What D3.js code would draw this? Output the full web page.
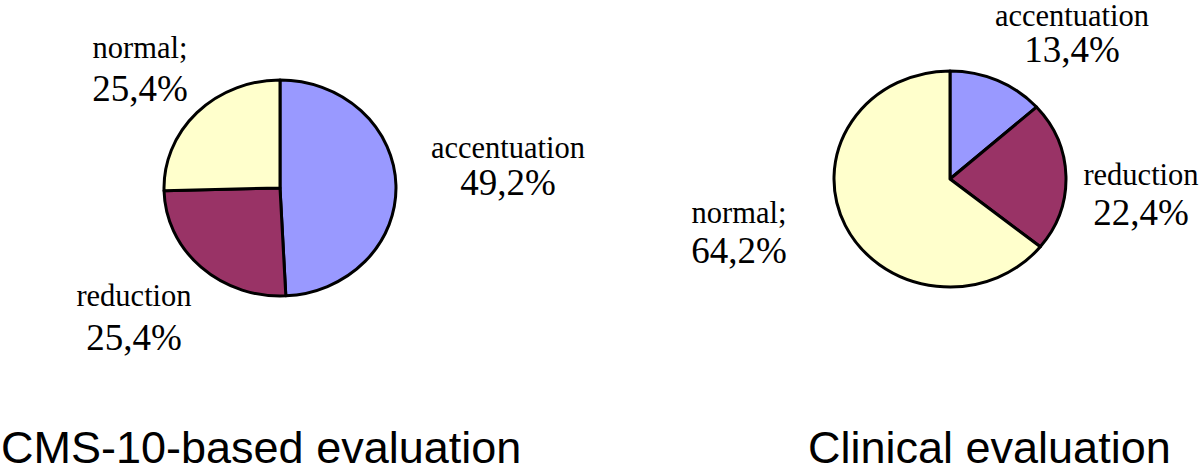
<!DOCTYPE html>
<html>
<head>
<meta charset="utf-8">
<script src="https://cdn.jsdelivr.net/npm/d3@7"></script>
<style>
  html, body { margin: 0; padding: 0; background: #fff; }
  svg { display: block; }
</style>
</head>
<body>
<svg id="chart" width="1200" height="473"></svg>
<script>
// ---- data ----
const categories = ["accentuation", "reduction", "normal"];
const cmsValues = [49.2, 25.4, 25.4];
const clinicalValues = [13.4, 22.4, 64.2];
const cmsLabels = ["accentuation", "reduction", "normal;"];
const clinicalLabels = ["accentuation", "reduction", "normal;"];
const chartTitles = ["CMS-10-based evaluation", "Clinical evaluation"];

// ---- styling / layout ----
const colors = d3.scaleOrdinal().domain(categories).range(["#9999ff", "#993366", "#ffffcc"]);
const fmt = v => d3.format(".1f")(v).replace(".", ",") + "%";

const svg = d3.select("#chart");

const pies = [
  { values: cmsValues, labels: cmsLabels, cx: 280, cy: 188, rx: 116, ry: 108,
    labelPos: [ {x: 508, y1: 158, y2: 195}, {x: 134, y1: 306, y2: 350}, {x: 140, y1: 58, y2: 101} ],
    title: chartTitles[0], titleX: 1 },
  { values: clinicalValues, labels: clinicalLabels, cx: 950, cy: 179, rx: 116, ry: 108,
    labelPos: [ {x: 1072, y1: 26, y2: 62}, {x: 1141, y1: 185, y2: 225}, {x: 739, y1: 223, y2: 263} ],
    title: chartTitles[1], titleX: 808 }
];

const pieGen = d3.pie().sort(null).value(d => d.value);

pies.forEach(p => {
  const data = categories.map((c, i) => ({ cat: c, value: p.values[i], label: p.labels[i] }));
  const arcs = pieGen(data);
  const arc = d3.arc().innerRadius(0).outerRadius(p.rx);

  const g = svg.append("g")
    .attr("transform", `translate(${p.cx},${p.cy}) scale(1,${p.ry / p.rx})`);

  g.selectAll("path")
    .data(arcs)
    .join("path")
    .attr("d", arc)
    .attr("fill", d => colors(d.data.cat))
    .attr("stroke", "#000")
    .attr("stroke-width", 3)
    .attr("stroke-linejoin", "round")
    .attr("vector-effect", "non-scaling-stroke");

  const lg = svg.append("g")
    .attr("font-family", "'Liberation Serif', 'Times New Roman', serif")
    .attr("fill", "#000")
    .attr("text-anchor", "middle");

  arcs.forEach((a, i) => {
    const lp = p.labelPos[i];
    lg.append("text")
      .attr("x", lp.x).attr("y", lp.y1)
      .attr("font-size", 30.5)
      .text(a.data.label);
    lg.append("text")
      .attr("x", lp.x).attr("y", lp.y2)
      .attr("font-size", 37)
      .text(fmt(a.data.value));
  });

  svg.append("text")
    .attr("x", p.titleX).attr("y", 463)
    .attr("font-family", "'Liberation Sans', Arial, sans-serif")
    .attr("font-size", 45)
    .attr("fill", "#000")
    .text(p.title);
});
</script>
</body>
</html>
